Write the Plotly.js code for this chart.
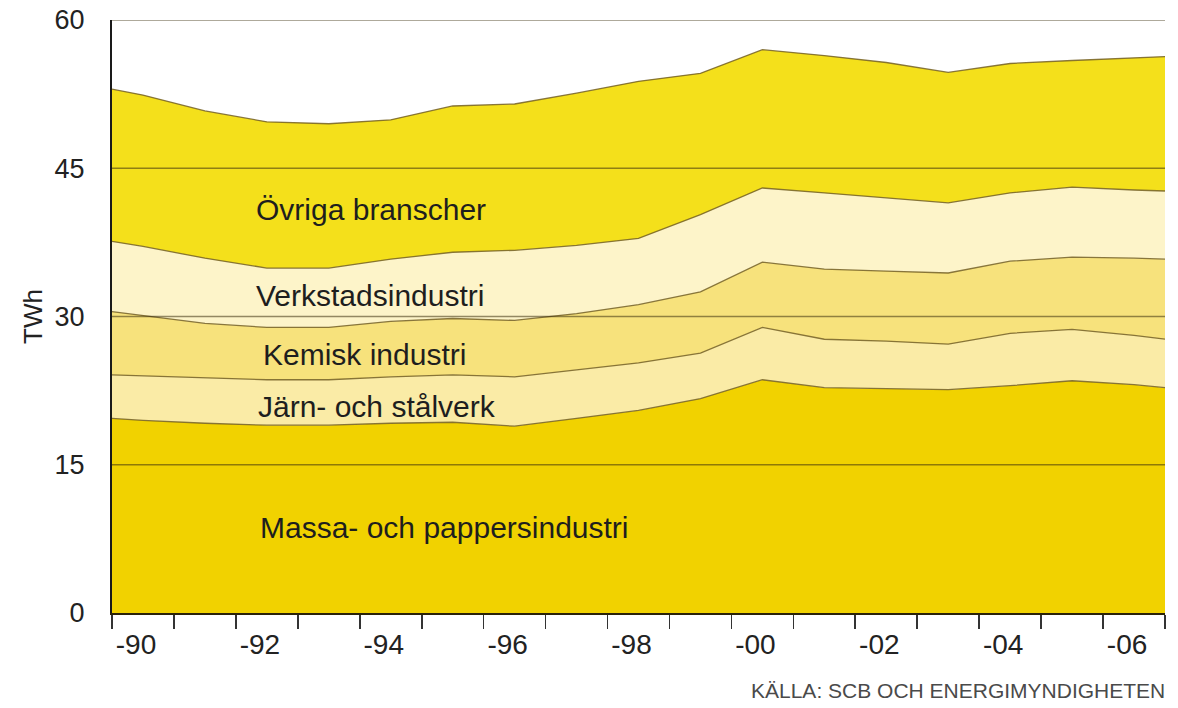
<!DOCTYPE html>
<html>
<head>
<meta charset="utf-8">
<script src="https://cdn.plot.ly/plotly-3.0.1.min.js"></script>
<style>html,body{margin:0;padding:0;background:#fff;}#chart{width:1178px;height:708px;}</style>
</head>
<body>
<div id="chart"></div>
<script>
// x positions (years) of the polygon vertices: edges of the period plus mid-year data points
const xYears = [1990, 1990.5, 1991.5, 1992.5, 1993.5, 1994.5, 1995.5, 1996.5, 1997.5, 1998.5,
                1999.5, 2000.5, 2001.5, 2002.5, 2003.5, 2004.5, 2005.5, 2006.5, 2007];

// TWh per branch
const massa    = [19.7, 19.5, 19.2, 19.0, 19.0, 19.2, 19.3, 18.9, 19.7, 20.5, 21.7, 23.6, 22.8, 22.7, 22.6, 23.0, 23.5, 23.1, 22.8];
const jarn     = [4.4, 4.5, 4.6, 4.6, 4.6, 4.7, 4.8, 5.0, 4.9, 4.8, 4.6, 5.3, 4.9, 4.8, 4.6, 5.3, 5.2, 5.0, 4.9];
const kemisk   = [6.4, 6.1, 5.5, 5.3, 5.3, 5.6, 5.7, 5.7, 5.7, 5.9, 6.2, 6.6, 7.1, 7.1, 7.2, 7.3, 7.3, 7.8, 8.1];
const verkstad = [7.1, 7.0, 6.6, 6.0, 6.0, 6.3, 6.7, 7.1, 6.9, 6.7, 7.8, 7.5, 7.7, 7.4, 7.1, 6.9, 7.1, 6.9, 6.9];
const ovriga   = [15.4, 15.3, 14.9, 14.8, 14.6, 14.1, 14.8, 14.8, 15.4, 15.9, 14.3, 14.0, 13.9, 13.7, 13.2, 13.1, 12.8, 13.4, 13.6];

const seriesNames = ['Massa- och pappersindustri', 'Järn- och stålverk', 'Kemisk industri', 'Verkstadsindustri', 'Övriga branscher'];

// tick labels
const xTickVals = [1990, 1992, 1994, 1996, 1998, 2000, 2002, 2004, 2006];
const xTickText = ['-90', '-92', '-94', '-96', '-98', '-00', '-02', '-04', '-06'];
const yTickVals = [0, 15, 30, 45, 60];
const gridVals  = [15, 30, 45, 60];

const yTitle = 'TWh';
const sourceText = 'KÄLLA: SCB OCH ENERGIMYNDIGHETEN';

const fills = ['#F1D200', '#FAEBA6', '#F7E27C', '#FDF4C9', '#F4E01B'];
const seriesData = [massa, jarn, kemisk, verkstad, ovriga];

const traces = seriesData.map((vals, i) => ({
  type: 'scatter',
  mode: 'lines',
  name: seriesNames[i],
  x: xYears,
  y: vals,
  stackgroup: 'one',
  fillcolor: fills[i],
  line: {color: 'rgba(115,95,35,0.85)', width: 1.3, shape: 'linear'},
  hoverinfo: 'skip'
}));

const labelPos = [
  {x: 1992.35, y: 8.7},
  {x: 1992.33, y: 20.9},
  {x: 1992.4, y: 26.2},
  {x: 1992.3, y: 32.1},
  {x: 1992.3, y: 40.8}
];

const FONT = 'Liberation Sans, Arial, Helvetica, sans-serif';

const annotations = seriesNames.map((n, i) => ({
  text: n, x: labelPos[i].x, y: labelPos[i].y, xref: 'x', yref: 'y',
  xanchor: 'left', yanchor: 'middle', showarrow: false,
  font: {family: FONT, size: 30, color: '#1e1e1e'}
}));
annotations.push({
  text: sourceText, xref: 'paper', yref: 'paper', x: 1.002, y: -0.13,
  xanchor: 'right', yanchor: 'middle', showarrow: false,
  font: {family: FONT, size: 21, color: '#4a4a4a'}
});

const shapes = gridVals.map(v => ({
  type: 'line', xref: 'paper', x0: 0, x1: 1, yref: 'y', y0: v, y1: v,
  layer: 'above', line: {color: 'rgba(60,48,12,0.55)', width: 1.6}
}));

const layout = {
  width: 1178, height: 708,
  margin: {l: 112, r: 13, t: 20, b: 95},
  paper_bgcolor: '#fff', plot_bgcolor: '#fff',
  showlegend: false,
  font: {family: FONT, color: '#222'},
  xaxis: {
    range: [1990, 2007],
    tickmode: 'array', tickvals: xTickVals, ticktext: xTickText,
    ticks: 'outside', ticklen: 14, tickwidth: 1.6, tickcolor: '#333',
    ticklabelshift: 24, ticklabelstandoff: -9,
    tickfont: {family: FONT, size: 28, color: '#222'},
    minor: {ticks: 'outside', ticklen: 14, tickwidth: 1.6, tickcolor: '#333', dtick: 1, tick0: 1990, showgrid: false},
    showgrid: false, zeroline: false,
    showline: true, linecolor: '#2a2208', linewidth: 2,
    fixedrange: true
  },
  yaxis: {
    range: [0, 60],
    tickmode: 'array', tickvals: yTickVals,
    ticks: '', ticklabelstandoff: 20,
    tickfont: {family: FONT, size: 27, color: '#222'},
    showgrid: false, zeroline: false,
    showline: true, linecolor: '#1a1a1a', linewidth: 2,
    title: {text: yTitle, font: {family: FONT, size: 26, color: '#222'}, standoff: 4},
    fixedrange: true
  },
  shapes: shapes,
  annotations: annotations
};

Plotly.newPlot('chart', traces, layout, {displayModeBar: false, staticPlot: true});
</script>
</body>
</html>
